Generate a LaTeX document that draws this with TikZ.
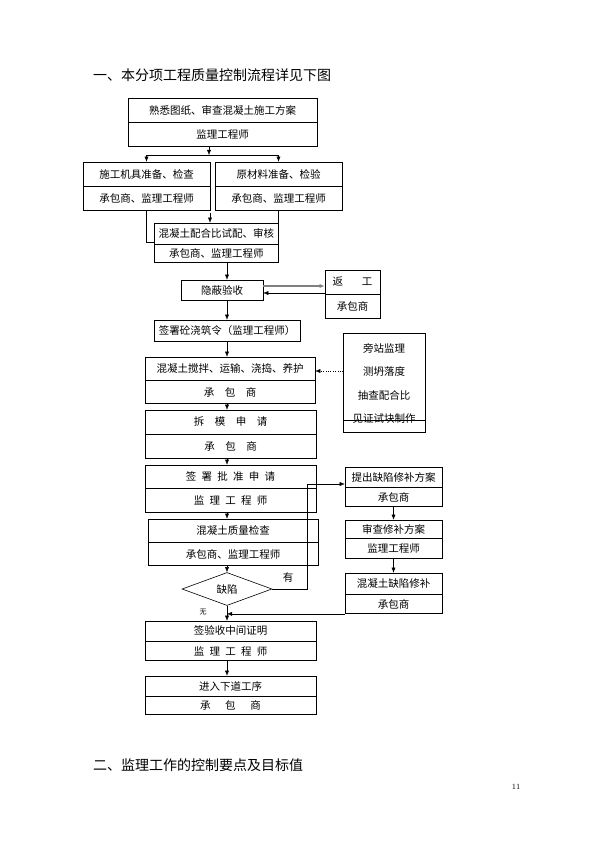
\documentclass[tikz,border=0pt]{standalone}
\usepackage{fontspec}
\newfontfamily\cjk{Noto Sans CJK SC}
\usetikzlibrary{positioning,shapes.geometric,arrows.meta}
\begin{document}
\begin{tikzpicture}[x=1pt,y=1pt,>={Latex[length=5pt,width=4pt]},
  cell/.style={draw, line width=0.6pt, inner sep=0pt, font=\cjk\fontsize{10.5}{12}\selectfont},
  lbl/.style={inner sep=0pt, font=\cjk\fontsize{10.5}{12}\selectfont},
  head/.style={anchor=west, inner sep=0pt, font=\cjk\fontsize{14}{16}\selectfont}]
\useasboundingbox (0,0) rectangle (595,-842);

\node[head] (title) at (93,-75) {一、本分项工程质量控制流程详见下图};

% boxes
\node[cell, minimum width=189pt, minimum height=24pt] (fa) at (222.5,-110) {熟悉图纸、审查混凝土施工方案};
\node[cell, minimum width=189pt, minimum height=24pt, below=0pt of fa] (fb) {监理工程师};

\node[cell, minimum width=127pt, minimum height=24pt] (ja) at (146.5,-174) {施工机具准备、检查};
\node[cell, minimum width=127pt, minimum height=24pt, below=0pt of ja] (jb) {承包商、监理工程师};
\node[cell, minimum width=127pt, minimum height=24pt] (ma) at (278.5,-174) {原材料准备、检验};
\node[cell, minimum width=127pt, minimum height=24pt, below=0pt of ma] (mb) {承包商、监理工程师};

\node[cell, minimum width=124.5pt, minimum height=21pt] (pa) at (216.25,-233.5) {混凝土配合比试配、审核};
\node[cell, minimum width=124.5pt, minimum height=18pt, below=0pt of pa] (pb) {承包商、监理工程师};

\node[cell, minimum width=82pt, minimum height=20pt] (hv) at (222,-290) {隐蔽验收};
\node[cell, minimum width=55pt, minimum height=24pt] (fg) at (352.5,-282) {返\hspace{1.8em}工};
\node[cell, minimum width=55pt, minimum height=24pt, below=0pt of fg] (fh) {承包商};

\node[cell, minimum width=146pt, minimum height=21pt] (qz) at (227,-330.5) {签署砼浇筑令（监理工程师）};

\node[cell, minimum width=170pt, minimum height=23pt] (ca) at (230,-368.5) {混凝土搅拌、运输、浇捣、养护};
\node[cell, minimum width=170pt, minimum height=23pt, below=0pt of ca] (cb) {承　包　商};

\node[cell, minimum width=82pt, minimum height=87pt] (pz) at (384,-376.5) {};
\node[cell, minimum width=82pt, minimum height=12pt, below=0pt of pz] (pw) {};
\node[lbl] (sa) at (384,-348) {旁站监理};
\node[lbl] (sc) at (384,-371) {测坍落度};
\node[lbl] (sd) at (384,-395) {抽查配合比};
\node[lbl] (se) at ([yshift=1.5pt]pz.south) {见证试块制作};

\node[cell, minimum width=171pt, minimum height=24pt] (da) at (230.5,-422) {拆　模　申　请};
\node[cell, minimum width=171pt, minimum height=24pt, below=0pt of da] (db) {承　包　商};

\node[cell, minimum width=171pt, minimum height=23pt] (ea) at (230.5,-476.5) {签\enspace 署\enspace 批\enspace 准\enspace 申\enspace 请};
\node[cell, minimum width=171pt, minimum height=24pt, below=0pt of ea] (eb) {监\enspace 理\enspace 工\enspace 程\enspace 师};

\node[cell, minimum width=170pt, minimum height=23pt] (ga) at (233,-530.5) {混凝土质量检查};
\node[cell, minimum width=170pt, minimum height=23pt, below=0pt of ga] (gb) {承包商、监理工程师};

\node[cell, shape=diamond, minimum width=90pt, minimum height=33pt] (qx) at (227,-589) {缺陷};

\node[cell, minimum width=97pt, minimum height=20pt] (ta) at (393.5,-477) {提出缺陷修补方案};
\node[cell, minimum width=97pt, minimum height=19pt, below=0pt of ta] (tb) {承包商};
\node[cell, minimum width=97pt, minimum height=18pt] (ua) at (393.5,-529) {审查修补方案};
\node[cell, minimum width=97pt, minimum height=20pt, below=0pt of ua] (ub) {监理工程师};
\node[cell, minimum width=97pt, minimum height=21pt] (ra) at (393.5,-583.5) {混凝土缺陷修补};
\node[cell, minimum width=97pt, minimum height=19pt, below=0pt of ra] (rb) {承包商};

\node[cell, minimum width=171pt, minimum height=20pt] (va) at (230.5,-631) {签验收中间证明};
\node[cell, minimum width=171pt, minimum height=19pt, below=0pt of va] (vb) {监\enspace 理\enspace 工\enspace 程\enspace 师};
\node[cell, minimum width=171pt, minimum height=20pt] (wa) at (230.5,-686) {进入下道工序};
\node[cell, minimum width=171pt, minimum height=18pt, below=0pt of wa] (wb) {承\hspace{1.4em}包\hspace{1.4em}商};

\node[lbl] (yes) at (288,-577) {有};
\node[lbl, font=\cjk\fontsize{7}{8}\selectfont] (no) at (203,-612) {无};

\node[head] (foot) at (93,-765) {二、监理工作的控制要点及目标值};
\node[inner sep=0pt, font=\fontsize{8}{9}\selectfont] (pg) at (516,-787) {11};

% connectors
\coordinate (axis) at (227,0);
\coordinate (fork) at (209,-155);
\coordinate (mid) at (210,-213);
\coordinate (turn) at (307,-484);
\coordinate (ho) at ([yshift=4pt]hv.east);
\coordinate (hi) at ([yshift=-3pt]hv.east);

\draw [->] (fork |- fb.south) -- (fork);
\draw [->] (fork) -| (ja.north);
\draw [->] (fork) -| (ma.north);
\draw (jb.south) |- ([yshift=-8.5pt]pa.west);
\draw (mb.south) -- (mb.south |- pa.north);
\draw [->] (mid) -- (mid |- pa.north);
\draw [->] (pb.south -| axis) -- (hv.north -| axis);
\draw [->, gray, line width=1.2pt] (ho) -- (ho -| fg.west);
\draw [->] (hi -| fg.west) -- (hi);
\draw [->] (hv.south -| axis) -- (qz.north -| axis);
\draw [->] (qz.south -| axis) -- (ca.north -| axis);
\draw [->, dotted] (pz.west |- sc) -- (ca.east |- sc);
\draw [->] (cb.south -| axis) -- (da.north -| axis);
\draw [->] (db.south -| axis) -- (ea.north -| axis);
\draw [->] (eb.south -| axis) -- (ga.north -| axis);
\draw [->] (gb.south -| axis) -- (qx.north);
\draw [->] (qx.south) -- (va.north -| axis);
\draw [->] (qx.east) -- (qx.east -| turn) -- (turn) -- (turn -| ta.west);
\draw [->] (tb.south) -- (ua.north);
\draw [->] (ub.south) -- (ra.north);
\draw [->] (rb.south west) -- (rb.south west -| axis);
\draw [->] (vb.south -| axis) -- (wa.north -| axis);

\end{tikzpicture}
\end{document}
